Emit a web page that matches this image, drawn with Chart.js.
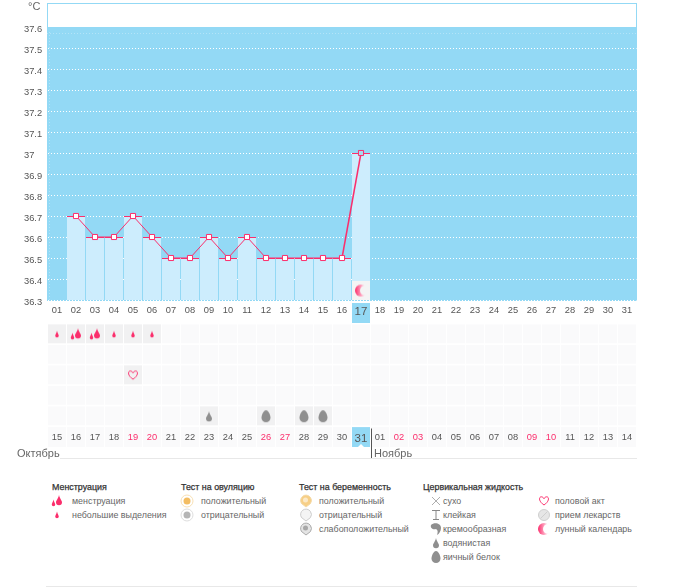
<!DOCTYPE html>
<html lang="ru"><head><meta charset="utf-8">
<script src="https://cdn.jsdelivr.net/npm/chart.js@4"></script>
<style>
html,body{margin:0;padding:0;background:#fff;width:675px;height:587px;overflow:hidden}
body{position:relative;font:8.9px "Liberation Sans",Arial,sans-serif;color:#666}
canvas{position:absolute;left:0}
#c1{top:0}#c2{top:324px}
.t{position:absolute;white-space:nowrap;line-height:12px;transform:translateY(-6px)}
.h{color:#333;-webkit-text-stroke:.25px #333}
.m{font-size:11px;color:#666;line-height:14px;transform:translateY(-7px)}
.u{font-size:11px;color:#666}
.rule{position:absolute;height:1px;background:#e8e8e8}
</style></head><body>
<canvas id="c1" width="675" height="324"></canvas>
<canvas id="c2" width="675" height="136"></canvas>
<div class="t u" style="left:28px;top:6px">°C</div>
<div class="rule" style="left:60px;width:577px;top:458px"></div>
<div class="rule" style="left:46px;width:591px;top:586px"></div>
<div class="t m" style="left:17px;top:453px">Октябрь</div>
<div class="t m" style="left:374px;top:453px">Ноябрь</div>
<div id="legend"></div>
<script>
// ---- data ----
const cycleDays = ['01','02','03','04','05','06','07','08','09','10','11','12','13','14','15','16','17','18','19','20','21','22','23','24','25','26','27','28','29','30','31'];
const calendarDays = ['15','16','17','18','19','20','21','22','23','24','25','26','27','28','29','30','31','01','02','03','04','05','06','07','08','09','10','11','12','13','14'];
const temperatures = [null,36.7,36.6,36.6,36.7,36.6,36.5,36.5,36.6,36.5,36.6,36.5,36.5,36.5,36.5,36.5,37,null,null,null,null,null,null,null,null,null,null,null,null,null,null];
const tempTicks = [36.3,36.4,36.5,36.6,36.7,36.8,36.9,37,37.1,37.2,37.3,37.4,37.5,37.6];
const weekendDays = ['19','20','26','27','02','03','09','10'];
const currentCycleDay = '17';
const currentCalendarDay = '31';
const moonDays = ['17'];
const menstruationDays = ['16','17'];
const spottingDays = ['15','18','19','20'];
const intercourseDays = ['19'];
const wateryDays = ['23'];
const eggWhiteDays = ['26','28','29'];

const PINK='#fb2e6c', BLUE='#93d9f5', LIGHT='#cdedfd', FONT='"Liberation Sans",Arial,sans-serif';

// ---- icons ----
function icon(w,h,fn){const c=document.createElement('canvas');c.width=w;c.height=h;fn(c.getContext('2d'),w,h);return c;}
function drop(g,x,y,w,h,col){g.fillStyle=col;g.beginPath();g.moveTo(x,y-h/2);
  g.bezierCurveTo(x+w*.15,y-h*.1,x+w/2,y+h*.05,x+w/2,y+h*.22);
  g.arc(x,y+h*.22,w/2,0,Math.PI);
  g.bezierCurveTo(x-w/2,y+h*.05,x-w*.15,y-h*.1,x,y-h/2);g.fill();}
const small=()=>icon(8,10,g=>drop(g,4,5,3.6,7,PINK));
const big=()=>icon(14,14,g=>{drop(g,9,6,6,10,PINK);drop(g,3.5,9,3.5,7,PINK);});
const heart=()=>icon(12,12,g=>{g.strokeStyle=PINK;g.lineWidth=1;g.beginPath();g.moveTo(6,10);
  g.bezierCurveTo(0,6,1,1.5,3.5,1.8);g.bezierCurveTo(5,2,5.7,3,6,3.8);g.bezierCurveTo(6.3,3,7,2,8.5,1.8);g.bezierCurveTo(11,1.5,12,6,6,10);g.stroke();});
const watery=()=>icon(10,12,g=>drop(g,5,6,6,10,'#8f8f8f'));
const egg=()=>icon(12,14,g=>{g.fillStyle='#8f8f8f';g.beginPath();g.moveTo(6,1);g.bezierCurveTo(8.5,1,10.5,6,10.5,8.5);g.arc(6,8.5,4.5,0,Math.PI);g.bezierCurveTo(1.5,6,3.5,1,6,1);g.fill();});
const moon=()=>icon(14,14,g=>{const l=g.createLinearGradient(1,0,9,0);l.addColorStop(0,PINK);l.addColorStop(1,'#ffc4d6');
  g.fillStyle=l;g.beginPath();g.arc(7,7,6,0,7);g.fill();g.globalCompositeOperation='destination-out';g.beginPath();g.arc(11,7,5,0,7);g.fill();});
const ring=(a,b,c)=>icon(14,14,g=>{g.fillStyle=c;g.beginPath();g.arc(7,7,5.5,0,7);g.fill();g.strokeStyle=a;g.lineWidth=1;g.beginPath();g.arc(7,7,6,0,7);g.stroke();g.fillStyle=b;g.beginPath();g.arc(7,7,3.5,0,7);g.fill();});
const pin=(edge,fill,core)=>icon(14,14,g=>{g.fillStyle=fill;g.strokeStyle=edge;g.lineWidth=1;g.beginPath();g.moveTo(7,13);g.lineTo(2.5,9.5);g.arc(7,6.5,5.4,Math.PI*.8,Math.PI*.2);g.closePath();g.fill();g.stroke();
  if(core){g.fillStyle=core;g.beginPath();g.arc(6.5,6,2.5,0,7);g.fill();}});
const cross=()=>icon(10,10,g=>{g.strokeStyle='#999';g.lineWidth=.8;g.beginPath();g.moveTo(1,1);g.lineTo(9,9);g.moveTo(9,1);g.lineTo(1,9);g.stroke();});
const sticky=()=>icon(10,12,g=>{g.strokeStyle='#888';g.lineWidth=1;g.beginPath();g.moveTo(1,1.5);g.lineTo(9,1.5);g.moveTo(5,1.5);g.lineTo(5,10.5);g.moveTo(2,10.5);g.lineTo(8,10.5);g.stroke();});
const creamy=()=>icon(12,14,g=>{g.fillStyle='#8f8f8f';g.beginPath();g.moveTo(1,3);g.bezierCurveTo(4,0,11,1,11,6);g.bezierCurveTo(11,9,9,12,7,13);g.bezierCurveTo(8,10,8,8,6,7);g.bezierCurveTo(3,8,0,6,1,3);g.fill();});
const pill=()=>icon(14,14,g=>{g.fillStyle='#e6e6e6';g.strokeStyle='#cfcfcf';g.beginPath();g.arc(7,7,5.5,0,7);g.fill();g.stroke();g.beginPath();g.moveTo(3.5,10.5);g.lineTo(10.5,3.5);g.stroke();});

// ---- temperature chart ----
const bandPlugin={id:'band',beforeDraw(ch){
  const {ctx,chartArea:a,scales:{x,y}}=ch, top=Math.round(y.getPixelForValue(37.6)), L=Math.floor(a.left), R=Math.ceil(a.right);
  ctx.save();ctx.fillStyle=BLUE;ctx.fillRect(L,top,R-L,Math.ceil(a.bottom)+1-top);
  ctx.strokeStyle=BLUE;ctx.lineWidth=1;ctx.strokeRect(L+.5,Math.floor(a.top)+.5,R-L-1,top-Math.floor(a.top));
  ctx.setLineDash([1,2]);ctx.strokeStyle='rgba(255,255,255,.3)';ctx.beginPath();ctx.moveTo(L+2.5,top+5);ctx.lineTo(L+2.5,a.bottom);ctx.moveTo(L,top+6.5);ctx.lineTo(R,top+6.5);ctx.stroke();ctx.setLineDash([]);
  const cx=x.getPixelForValue(currentCycleDay);
  ctx.fillStyle=BLUE;ctx.fillRect(cx-9,Math.round(a.bottom)+3,18,20);
  ctx.restore();}};
new Chart(document.getElementById('c1'),{
  data:{labels:cycleDays,datasets:[
    {type:'line',order:0,data:temperatures,borderColor:PINK,borderWidth:1,spanGaps:false,tension:0,
     segment:{borderWidth:c=>c.p1DataIndex===16?1.5:1},
     pointStyle:'rect',pointRadius:3.6,pointBorderWidth:1,pointBorderColor:PINK,
     pointBackgroundColor:temperatures.map((v,i)=>cycleDays[i]===currentCycleDay?'#a9d8ee':'#fff')},
    {type:'line',order:1,showLine:false,data:moonDays.map(d=>({x:d,y:36.345})),pointStyle:moon(),pointRadius:7},
    {type:'bar',order:2,grouped:false,data:moonDays.map(d=>({x:d,y:[36.3,36.39]})),backgroundColor:'#f4f4f4',barPercentage:1,categoryPercentage:18/19},
    {type:'bar',order:3,grouped:false,data:temperatures.map(v=>v==null?null:[36.3,v]),backgroundColor:LIGHT,borderColor:PINK,borderWidth:{top:1,left:0,right:0,bottom:0},borderSkipped:false,barPercentage:1,categoryPercentage:18/19}
  ]},
  plugins:[bandPlugin],
  options:{responsive:false,animation:false,events:[],
    layout:{autoPadding:false,padding:{left:24,right:38.5,top:3,bottom:0}},
    plugins:{legend:{display:false},tooltip:{enabled:false}},
    scales:{
      x:{type:'category',grid:{display:false,drawTicks:false},border:{display:false},
        afterFit(s){s.height=24;s.paddingLeft=0;s.paddingRight=0;},
        ticks:{autoSkip:false,maxRotation:0,padding:5,color:'#555',
          font:c=>({family:FONT,size:cycleDays[c.index]===currentCycleDay?11.5:9.3})}},
      y:{min:36.3,max:37.7143,
        afterBuildTicks(s){s.ticks=tempTicks.map(v=>({value:v}));},
        afterFit(s){s.width=23.5;s.paddingTop=0;s.paddingBottom=0;},
        border:{display:false,dash:[1,2]},
        grid:{drawTicks:false,color:c=>c.tick&&c.tick.value>=37.6?'transparent':'#fff'},
        ticks:{crossAlign:'far',labelOffset:2.5,color:'#555',font:{family:FONT,size:9.3},callback:v=>String(v)}}
    }}
});

// ---- symptom grid ----
const ROW=.94;
const rowBars=(r)=>calendarDays.map(()=>[r+.03,r+ROW]);
const markedRow=(days,r)=>days.map(d=>({x:d,y:[r+.03,r+ROW]}));
const base='#fafafb', mark='#f1f1f2';
const points=(days,r,st)=>({type:'line',showLine:false,data:days.map(d=>({x:d,y:r+.5})),pointStyle:st,pointRadius:6,order:0});
const barDs=(data,col)=>({type:'bar',grouped:false,data,backgroundColor:col,barPercentage:1,categoryPercentage:18/19});
const gridPlugin={id:'dateRow',
  beforeDraw(ch){const {ctx,scales:{x},chartArea:a}=ch;ctx.save();
    calendarDays.forEach(d=>{const cx=x.getPixelForValue(d);ctx.fillStyle=d===currentCalendarDay?BLUE:base;ctx.fillRect(cx-9,a.bottom+.6,18,19.9);});
    ctx.restore();},
  afterDraw(ch){const {ctx,scales:{x},chartArea:a}=ch,cx=x.getPixelForValue(currentCalendarDay);
    ctx.save();ctx.fillStyle='#555';ctx.fillRect(Math.round(cx+9.5),a.bottom+2,1,134-a.bottom-2);
    ctx.fillStyle='#fff';ctx.beginPath();ctx.moveTo(cx-3,a.bottom+20.5);ctx.lineTo(cx,a.bottom+17.5);ctx.lineTo(cx+3,a.bottom+20.5);ctx.fill();ctx.restore();}};
new Chart(document.getElementById('c2'),{
  data:{labels:calendarDays,datasets:[
    points(menstruationDays,0,big()),points(spottingDays,0,small()),
    points(intercourseDays,2,heart()),points(wateryDays,4,watery()),points(eggWhiteDays,4,egg()),
    {...barDs(markedRow([...menstruationDays,...spottingDays],0),mark),order:1},
    {...barDs(markedRow(intercourseDays,2),mark),order:1},
    {...barDs(markedRow([...wateryDays,...eggWhiteDays],4),mark),order:1},
    ...[0,1,2,3,4].map(r=>({...barDs(rowBars(r),base),order:2}))
  ]},
  plugins:[gridPlugin],
  options:{responsive:false,animation:false,events:[],
    layout:{autoPadding:false,padding:{left:47.5,right:38.5,top:0,bottom:13}},
    plugins:{legend:{display:false},tooltip:{enabled:false}},
    scales:{
      y:{display:false,min:0,max:5,reverse:true},
      x:{type:'category',z:1,grid:{display:false,drawTicks:false},border:{display:false},
        afterFit(s){s.height=20.5;s.paddingLeft=0;s.paddingRight=0;},
        ticks:{autoSkip:false,maxRotation:0,padding:5,
          color:c=>weekendDays.includes(calendarDays[c.index])?PINK:'#555',
          font:c=>({family:FONT,size:calendarDays[c.index]===currentCalendarDay?11.5:9.3})}}
    }}
});

// ---- legend ----
const legendHeaders=[['Менструация',52],['Тест на овуляцию',181],['Тест на беременность',299],['Цервикальная жидкость',423]];
const legendItems=[
 [57,72,501,'менструация',big],[57,72,515,'небольшие выделения',small],
 [187,201,501,'положительный',()=>ring('#f7dfb3','#f3bd62','#fff')],[187,201,515,'отрицательный',()=>ring('#ddd','#b5b5b5','#fff')],
 [306,319,501,'положительный',()=>pin('#f3d9a8','#f7cf86','#fbe9c8')],[306,319,515,'отрицательный',()=>pin('#ccc','#f4f4f4')],[306,319,529,'слабоположительный',()=>pin('#aaa','#e4e4e4','#a8a8a8')],
 [435.5,443,501,'сухо',cross],[435.5,443,515,'клейкая',sticky],[435.5,443,529,'кремообразная',creamy],[435.5,443,543,'водянистая',watery],[435.5,443,557,'яичный белок',egg],
 [544,555,501,'половой акт',heart],[544,555,515,'прием лекарств',pill],[544,555,529,'лунный календарь',moon]
];
const LG=document.getElementById('legend');
legendHeaders.forEach(([t,x])=>{const d=document.createElement('div');d.className='t h';d.textContent=t;d.style.left=x+'px';d.style.top='487px';LG.appendChild(d);});
legendItems.forEach(([ix,tx,y,t,fn])=>{const c=fn();c.style.left=(ix-c.width/2)+'px';c.style.top=(y-c.height/2)+'px';LG.appendChild(c);
  const d=document.createElement('div');d.className='t';d.textContent=t;d.style.left=tx+'px';d.style.top=y+'px';LG.appendChild(d);});
</script>
</body></html>
